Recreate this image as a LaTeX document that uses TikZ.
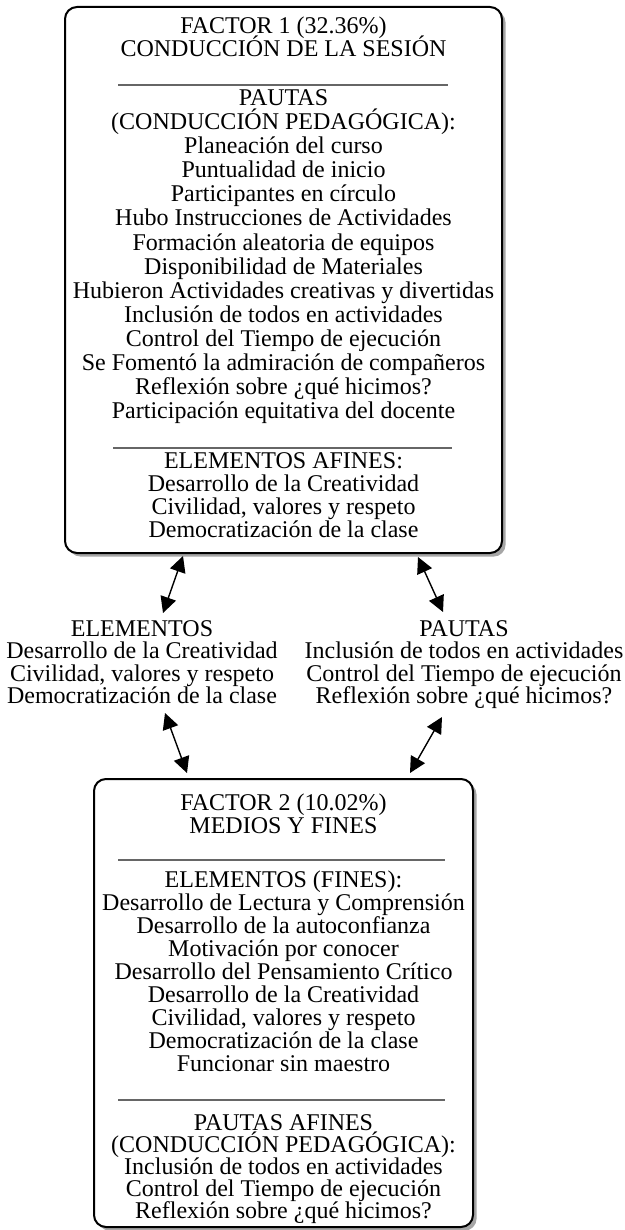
\documentclass[tikz,border=0pt]{standalone}
\usepackage{fontspec}
\setmainfont{Liberation Serif}
\usetikzlibrary{arrows.meta,shadows}
\newcommand\txtlines[5]{%
  \foreach \t [count=\i] in {#5} {\node[txt, name=#1\i] at (#2, {#3+#4*(\i-1)}) {\t};}}
\begin{document}
\begin{tikzpicture}[x=0.5pt,y=-0.5pt,
  txt/.style={inner sep=0pt, anchor=base, font=\fontsize{12}{14}\selectfont},
  panel/.style={draw=black, line width=1pt, rounded corners=6pt, fill=white,
    drop shadow={shadow xshift=1.8pt, shadow yshift=-1.8pt, fill=black!35, opacity=1}},
  sep/.style={draw=black!60, line width=0.9pt},
  link/.style={line width=0.7pt, {Triangle[length=8pt,width=8pt]}-{Triangle[length=8pt,width=8pt]}}]
\useasboundingbox (0,0) rectangle (625,1230);

% panels
\node[panel, minimum width=218.5pt, minimum height=273pt] (f1) at (283.5,280) {};
\node[panel, minimum width=189.5pt, minimum height=224pt] (f2) at (283.5,1003) {};

% top panel text
\txtlines{h1}{283.5}{34}{23}{FACTOR 1 (32.36\%),CONDUCCIÓN DE LA SESIÓN}
\coordinate (s1a) at (118,85); \coordinate (s1b) at (448,85);
\draw[sep] (s1a) -- (s1b);
\txtlines{p1}{283.5}{106}{24}{PAUTAS,(CONDUCCIÓN PEDAGÓGICA):,Planeación del curso,Puntualidad de inicio,Participantes en círculo,Hubo Instrucciones de Actividades,Formación aleatoria de equipos,Disponibilidad de Materiales,Hubieron Actividades creativas y divertidas,Inclusión de todos en actividades,Control del Tiempo de ejecución,Se Fomentó la admiración de compañeros,Reflexión sobre ¿qué hicimos?,Participación equitativa del docente}
\coordinate (s2a) at (113,448); \coordinate (s2b) at (452,448);
\draw[sep] (s2a) -- (s2b);
\txtlines{e1}{283.5}{468}{23.3}{ELEMENTOS AFINES:,Desarrollo de la Creatividad,{Civilidad, valores y respeto},Democratización de la clase}

% middle texts
\txtlines{ml}{142}{636}{22.5}{ELEMENTOS,Desarrollo de la Creatividad,{Civilidad, valores y respeto},Democratización de la clase}
\txtlines{mr}{464}{636}{22.5}{PAUTAS,Inclusión de todos en actividades,Control del Tiempo de ejecución,Reflexión sobre ¿qué hicimos?}

% bottom panel text
\txtlines{h2}{283.5}{810}{23}{FACTOR 2 (10.02\%),MEDIOS Y FINES}
\coordinate (s3a) at (118,860); \coordinate (s3b) at (445,860);
\draw[sep] (s3a) -- (s3b);
\txtlines{e2}{283.5}{887}{23}{ELEMENTOS (FINES):,Desarrollo de Lectura y Comprensión,Desarrollo de la autoconfianza,Motivación por conocer,Desarrollo del Pensamiento Crítico,Desarrollo de la Creatividad,{Civilidad, valores y respeto},Democratización de la clase,Funcionar sin maestro}
\coordinate (s4a) at (118,1100); \coordinate (s4b) at (445,1100);
\draw[sep] (s4a) -- (s4b);
\txtlines{p2}{283.5}{1130}{22}{PAUTAS AFINES,(CONDUCCIÓN PEDAGÓGICA):,Inclusión de todos en actividades,Control del Tiempo de ejecución,Reflexión sobre ¿qué hicimos?}

% connectors
\coordinate (a1) at (183,556); \coordinate (a2) at (163,613);
\coordinate (a3) at (418,557); \coordinate (a4) at (443,612);
\coordinate (a5) at (165,713); \coordinate (a6) at (187,773);
\coordinate (a7) at (442,717); \coordinate (a8) at (410,773);
\draw[link] (a1) -- (a2);
\draw[link] (a3) -- (a4);
\draw[link] (a5) -- (a6);
\draw[link] (a7) -- (a8);
\end{tikzpicture}
\end{document}
